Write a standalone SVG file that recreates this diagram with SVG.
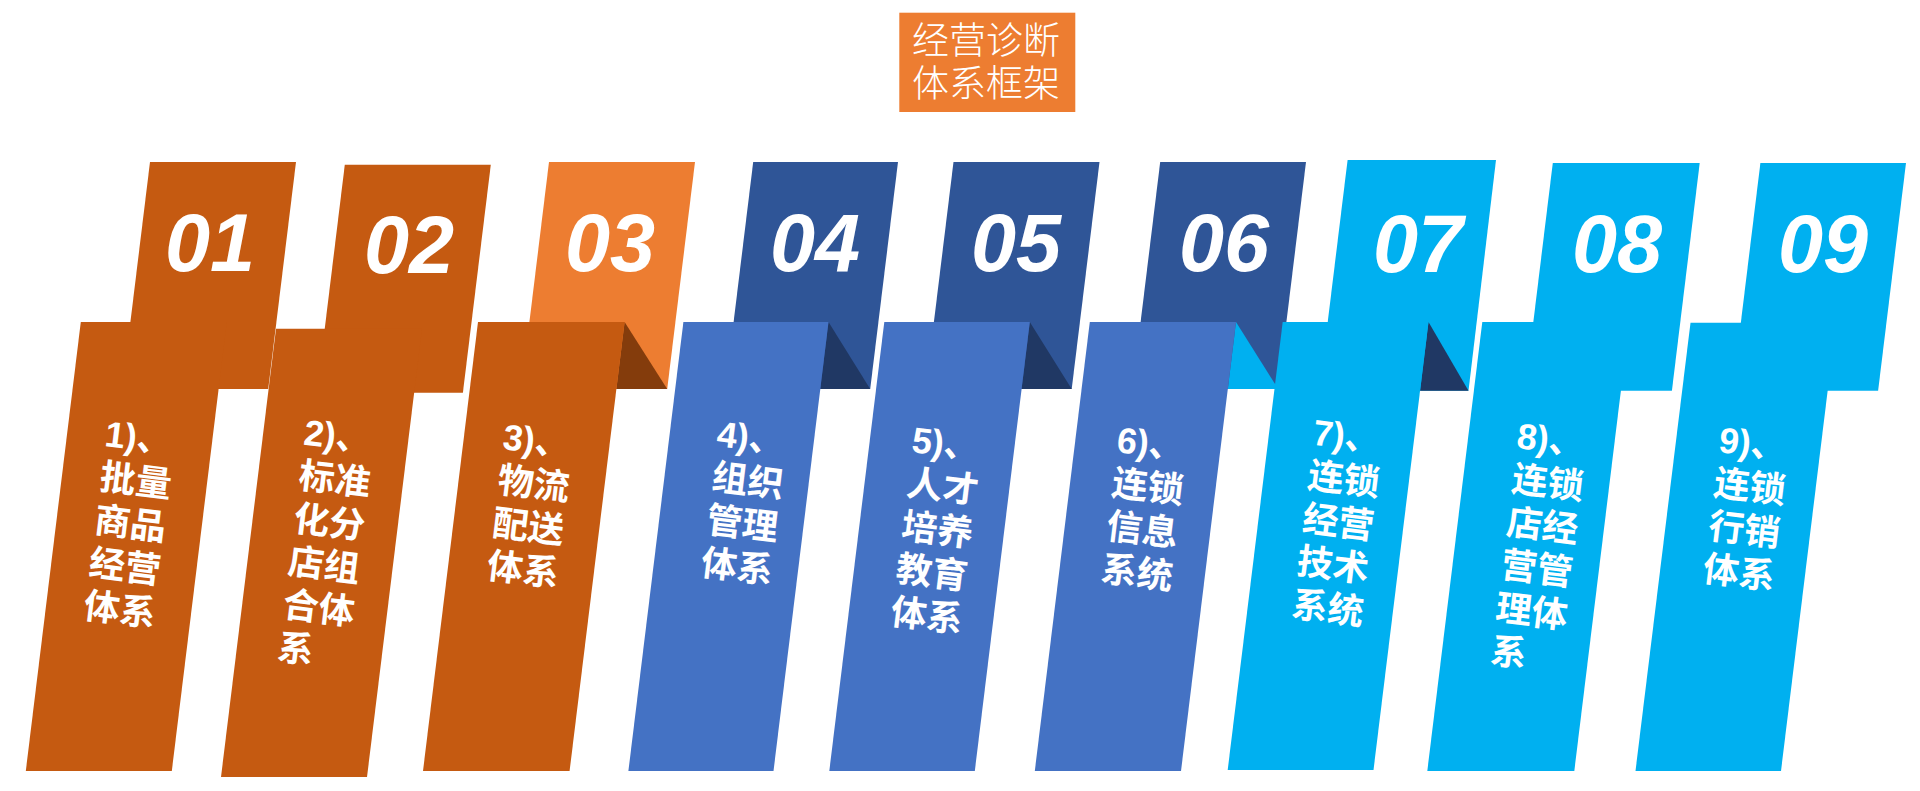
<svg xmlns="http://www.w3.org/2000/svg" width="1920" height="791" viewBox="0 0 1920 791">
<style>
.num{font-family:"Liberation Sans",Arial,sans-serif;font-weight:bold;font-style:italic;font-size:81px;fill:#fff;text-anchor:middle}
.lbl{font-family:"Liberation Sans","Noto Sans CJK SC",sans-serif;font-weight:bold;font-size:36px;fill:#fff}
.ttl{font-family:"Liberation Sans","Noto Sans CJK SC",sans-serif;font-weight:300;font-size:37px;fill:#fff;text-anchor:middle}
.o1{fill:#c55a11}.o2{fill:#ed7d31}.b1{fill:#2f5597}.b2{fill:#4472c4}.c1{fill:#00b0f0}
.fb{fill:#843c0c}.fn{fill:#203864}
</style>
<rect width="1920" height="791" fill="#fff"/>
<g id="title">
<rect x="899.3" y="12.7" width="176" height="99.3" fill="#ed7d31"/>
<text class="ttl" x="986" y="54">经营诊断</text>
<text class="ttl" x="986" y="97">体系框架</text>
</g>
<g id="connectors"></g>
<g id="node1">
<polygon class="o1" points="150,162 296,162 268.2,389 122.2,389"/>
<polygon class="o1" points="80.8,322 226.8,322 171.8,771 25.8,771"/>
<text class="num" x="210" y="271">01</text>
<g transform="translate(100,476) rotate(7)" class="lbl">
<text x="0" y="-30.3">1)、</text><text x="0" y="13">批量</text><text x="0" y="56.3">商品</text><text x="0" y="99.6">经营</text><text x="0" y="142.9">体系</text>
</g>
</g>
<g id="node2">
<polygon class="o1" points="344.8,164.7 490.8,164.7 462.9,392.7 316.9,392.7"/>
<polygon class="o1" points="276,328.7 422,328.7 367,777 221,777"/>
<text class="num" x="409" y="273">02</text>
<g transform="translate(299,474.5) rotate(7)" class="lbl">
<text x="0" y="-30.3">2)、</text><text x="0" y="13">标准</text><text x="0" y="56.3">化分</text><text x="0" y="99.6">店组</text><text x="0" y="142.9">合体</text><text x="0" y="186.2">系</text>
</g>
</g>
<g id="node3">
<polygon class="o2" points="549,162 695,162 667.2,389 521.2,389"/>
<polygon class="fb" points="624.6,322 667.2,389 616.4,389"/>
<polygon class="o1" points="478,322 624.6,322 569.6,771 423,771"/>
<text class="num" x="610" y="271">03</text>
<g transform="translate(498,479) rotate(7)" class="lbl">
<text x="0" y="-30.3">3)、</text><text x="0" y="13">物流</text><text x="0" y="56.3">配送</text><text x="0" y="99.6">体系</text>
</g>
</g>
<g id="node4">
<polygon class="b1" points="753.2,162 898,162 870.2,389 725.4,389"/>
<polygon class="fn" points="828.5,322 870.2,389 820.3,389"/>
<polygon class="b2" points="683.4,322 828.5,322 773.5,771 628.4,771"/>
<text class="num" x="815" y="271">04</text>
<g transform="translate(712,476) rotate(7)" class="lbl">
<text x="0" y="-30.3">4)、</text><text x="0" y="13">组织</text><text x="0" y="56.3">管理</text><text x="0" y="99.6">体系</text>
</g>
</g>
<g id="node5">
<polygon class="b1" points="953.5,162 1099.5,162 1071.7,389 925.7,389"/>
<polygon class="fn" points="1029.8,322 1071.7,389 1021.6,389"/>
<polygon class="b2" points="884.3,322 1029.8,322 974.8,771 829.3,771"/>
<text class="num" x="1016" y="271">05</text>
<g transform="translate(907,482) rotate(7)" class="lbl">
<text x="0" y="-30.3">5)、</text><text x="0" y="13">人才</text><text x="0" y="56.3">培养</text><text x="0" y="99.6">教育</text><text x="0" y="142.9">体系</text>
</g>
</g>
<g id="node6">
<polygon class="b1" points="1160.2,162 1306,162 1278.2,389 1132.4,389"/>
<polygon class="c1" points="1236,322 1278.2,389 1227.8,389"/>
<polygon class="b2" points="1089.8,322 1236,322 1181,771 1034.8,771"/>
<text class="num" x="1224" y="271">06</text>
<g transform="translate(1112,482) rotate(7)" class="lbl">
<text x="0" y="-30.3">6)、</text><text x="0" y="13">连锁</text><text x="0" y="56.3">信息</text><text x="0" y="99.6">系统</text>
</g>
</g>
<g id="node7">
<polygon class="c1" points="1347.6,160 1496,160 1468.5,390.7 1319.3,390.7"/>
<polygon class="fn" points="1428.5,322 1468.5,390.7 1420.1,390.7"/>
<polygon class="c1" points="1282.7,322 1428.5,322 1373.5,770 1227.7,770"/>
<text class="num" x="1418" y="272">07</text>
<g transform="translate(1308,474.5) rotate(7)" class="lbl">
<text x="0" y="-30.3">7)、</text><text x="0" y="13">连锁</text><text x="0" y="56.3">经营</text><text x="0" y="99.6">技术</text><text x="0" y="142.9">系统</text>
</g>
</g>
<g id="node8">
<polygon class="c1" points="1552.8,163 1699.7,163 1671.9,390.7 1524.9,390.7"/>
<polygon class="c1" points="1482.3,322 1629.3,322 1574.3,771 1427.3,771"/>
<text class="num" x="1617" y="272">08</text>
<g transform="translate(1512,478) rotate(7)" class="lbl">
<text x="0" y="-30.3">8)、</text><text x="0" y="13">连锁</text><text x="0" y="56.3">店经</text><text x="0" y="99.6">营管</text><text x="0" y="142.9">理体</text><text x="0" y="186.2">系</text>
</g>
</g>
<g id="node9">
<polygon class="c1" points="1760.4,163 1906,163 1878.1,390.7 1732.5,390.7"/>
<polygon class="c1" points="1690.5,322.7 1836,322.7 1781,771 1635.5,771"/>
<text class="num" x="1823" y="272">09</text>
<g transform="translate(1714,482) rotate(7)" class="lbl">
<text x="0" y="-30.3">9)、</text><text x="0" y="13">连锁</text><text x="0" y="56.3">行销</text><text x="0" y="99.6">体系</text>
</g>
</g>
</svg>
